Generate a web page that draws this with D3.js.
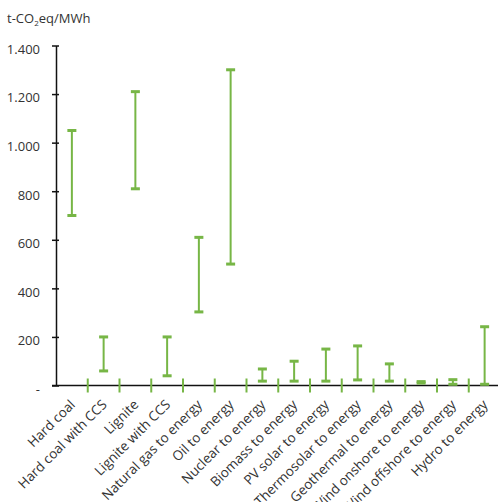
<!DOCTYPE html>
<html>
<head>
<meta charset="utf-8">
<script src="https://cdn.jsdelivr.net/npm/d3@7"></script>
<style>
  html, body { margin: 0; padding: 0; background: #fff; }
  svg { display: block; }
  text { font-family: "Open Sans", "DejaVu Sans", sans-serif; fill: #333; }
</style>
</head>
<body>
<svg id="chart" width="498" height="502"></svg>
<script>
const categories = [
  "Hard coal", "Hard coal with CCS", "Lignite", "Lignite with CCS",
  "Natural gas to energy", "Oil to energy", "Nuclear to energy",
  "Biomass to energy", "PV solar to energy", "Thermosolar to energy",
  "Geothermal to energy", "Wind onshore to energy", "Wind offshore to energy",
  "Hydro to energy"
];
const minValues = [700, 60, 810, 40, 303, 500, 18, 18, 18, 23, 18, 10, 5, 5];
const maxValues = [1050, 200, 1210, 200, 610, 1300, 68, 100, 150, 163, 89, 16, 24, 242];
const yTicks = [0, 200, 400, 600, 800, 1000, 1200, 1400];
const yTickLabels = ["-", "200", "400", "600", "800", "1.000", "1.200", "1.400"];

const green = "#77b646";
const svg = d3.select("#chart");

const x = d3.scaleBand().domain(categories).range([56, 500.5]).padding(0);
const y = d3.scaleLinear().domain([0, 1400]).range([385.5, 45.5]);

// Title with subscript
const title = svg.append("text").attr("x", 7).attr("y", 23).attr("font-size", 13);
title.append("tspan").text("t-CO");
title.append("tspan").attr("font-size", 8).attr("dy", 3).text("2");
title.append("tspan").attr("dy", -3).text("eq/MWh");

// Y axis
const yAxis = d3.axisLeft(y)
  .tickValues(yTicks)
  .tickFormat((d, i) => yTickLabels[i])
  .tickSizeInner(4)
  .tickSizeOuter(0);
const gy = svg.append("g").attr("transform", "translate(56,0)").call(yAxis);
gy.select(".domain").attr("stroke", "#111").attr("stroke-width", 1.5);
gy.selectAll(".tick line").attr("stroke", "#111").attr("stroke-width", 1.5).attr("x2", -4).attr("x1", 3);
gy.selectAll(".tick text")
  .attr("x", -16).attr("dy", "0.6em")
  .attr("font-size", 13)
  .attr("font-family", "'Open Sans', sans-serif")
  .attr("fill", "#333");

// X axis line
svg.append("line")
  .attr("x1", 52).attr("x2", 498)
  .attr("y1", y(0)).attr("y2", y(0))
  .attr("stroke", "#111").attr("stroke-width", 1.5);

// Category separator ticks (green)
svg.append("g").selectAll("line")
  .data(categories.slice(1))
  .join("line")
  .attr("x1", d => x(d)).attr("x2", d => x(d))
  .attr("y1", y(0) - 7).attr("y2", y(0) + 7)
  .attr("stroke", green).attr("stroke-width", 2);

// X labels
svg.append("g").selectAll("text")
  .data(categories)
  .join("text")
  .attr("transform", d => `translate(${x(d) + x.bandwidth() / 2 + 4},${y(0) + 20}) rotate(-45)`)
  .attr("text-anchor", "end")
  .attr("font-size", 13.5)
  .text(d => d);

// Error bars
const bars = svg.append("g").selectAll("g")
  .data(categories.map((c, i) => ({ c, lo: minValues[i], hi: maxValues[i] })))
  .join("g");
bars.append("line")
  .attr("x1", d => x(d.c) + x.bandwidth() / 2)
  .attr("x2", d => x(d.c) + x.bandwidth() / 2)
  .attr("y1", d => y(d.lo)).attr("y2", d => y(d.hi))
  .attr("stroke", green).attr("stroke-width", 2);
bars.append("rect")
  .attr("x", d => x(d.c) + x.bandwidth() / 2 - 4.5)
  .attr("y", d => y(d.hi) - 1.5)
  .attr("width", 9).attr("height", 3)
  .attr("fill", green);
bars.append("rect")
  .attr("x", d => x(d.c) + x.bandwidth() / 2 - 4.5)
  .attr("y", d => y(d.lo) - 1.5)
  .attr("width", 9).attr("height", 3)
  .attr("fill", green);
</script>
</body>
</html>
